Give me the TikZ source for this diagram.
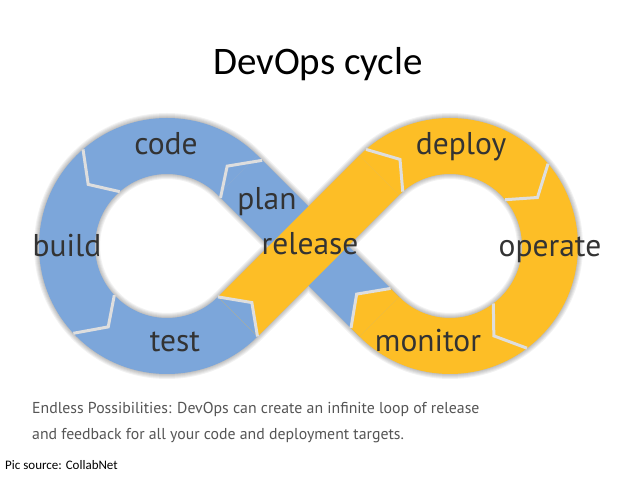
\documentclass[tikz,border=0pt]{standalone}
\usepackage{fontspec}
\setmainfont{Carlito}
\newfontfamily\labelfont{PT Sans}
\usetikzlibrary{calc}
\definecolor{dvblue}{RGB}{124,166,218}
\definecolor{dvyellow}{RGB}{253,190,38}
\definecolor{dvtext}{RGB}{51,51,51}
\definecolor{capgray}{RGB}{85,85,85}
\definecolor{sepgray}{RGB}{222,222,222}
\begin{document}
\begin{tikzpicture}[x=1pt,y=1pt,
  sep/.style={draw=sepgray, line width=3pt, line join=miter},
  shadowstroke/.style={draw=black, draw opacity=0.05},
  lbl/.style={text=dvtext, font=\labelfont\fontsize{31.5}{31.5}\selectfont, inner sep=0pt, anchor=base},
  captext/.style={text=capgray, font=\labelfont\fontsize{15.8}{15.8}\selectfont, inner sep=0pt, anchor=base west}]
\useasboundingbox (0,0) rectangle (638,479);
\fill[white] (0,0) rectangle (638,479);
\coordinate (C1) at (167,233);
\coordinate (C2) at (450,233);

% ---- soft shadow along the loop
\foreach \w in {56,58,60,62,64,66} {
  \draw[shadowstroke, line width=\w pt, yshift=-6pt]
    ($(C1)+(45:100)$) arc[start angle=45, end angle=315, radius=100]
    -- ($(C2)+(135:100)$) arc[start angle=135, end angle=-135, radius=100] -- cycle;
}

% ---- blue half: left ring and plan band
\fill[dvblue] ($(C1)+(45:128)$) arc[start angle=45, end angle=315, radius=128]
  -- ($(C1)+(315:72)$) arc[start angle=315, end angle=45, radius=72] -- cycle;
\fill[dvblue] ($(C1)+(45:128)$) -- ($(C2)+(225:72)$) -- ($(C2)+(225:128)$) -- ($(C1)+(45:72)$) -- cycle;

% ---- yellow half: right ring and release band
\fill[dvyellow] ($(C2)+(135:128)$) arc[start angle=135, end angle=-135, radius=128]
  -- ($(C2)+(-135:72)$) arc[start angle=-135, end angle=135, radius=72] -- cycle;
\fill[dvyellow] ($(C1)+(-45:128)$) -- ($(C2)+(135:72)$) -- ($(C2)+(135:128)$) -- ($(C1)+(-45:72)$) -- cycle;

% ---- arrow tips where the colour changes
\fill[dvblue] ($(C1)+(315:128)$) -- ($(C1)+(315:100)+(45:20)$) -- ($(C1)+(315:72)$) -- cycle;
\fill[dvyellow] ($(C2)+(225:128)$) -- ($(C2)+(225:128)+(135:12)$) -- ($(C2)+(225:100)+(135:32)$)
  -- ($(C2)+(225:72)+(135:12)$) -- ($(C2)+(225:72)$) -- cycle;

% ---- separators (chevrons)
\draw[sep] ($(C1)+(42:128)$) -- ($(C1)+(53:100)$) -- ($(C1)+(42:72)$);
\draw[sep] ($(C1)+(131:128)$) -- ($(C1)+(142:100)$) -- ($(C1)+(131:72)$);
\draw[sep] ($(C1)+(223:128)$) -- ($(C1)+(234:100)$) -- ($(C1)+(223:72)$);
\draw[sep] ($(C1)+(315:128)$) -- ($(C1)+(315:100)+(45:20)$) -- ($(C1)+(315:72)$);
\draw[sep] ($(C2)+(131:128)$) -- ($(C2)+(120:100)$) -- ($(C2)+(131:72)$);
\draw[sep] ($(C2)+(40:128)$) -- ($(C2)+(29:100)$) -- ($(C2)+(40:72)$);
\draw[sep] ($(C2)+(-53:128)$) -- ($(C2)+(-64:100)$) -- ($(C2)+(-53:72)$);
\draw[sep] ($(C2)+(225:128)+(135:12)$) -- ($(C2)+(225:100)+(135:32)$) -- ($(C2)+(225:72)+(135:12)$);

% ---- labels
\node[lbl] (code) at (166,324) {code};
\node[lbl] (plan) at (267,269) {plan};
\node[lbl] (build) at (67,222) {build};
\node[lbl] (release) at (310,224) {release};
\node[lbl] (test) at (175,127) {test};
\node[lbl] (deploy) at (461,324) {deploy};
\node[lbl] (operate) at (550,222) {operate};
\node[lbl] (monitor) at (428,127) {monitor};

% ---- title and captions
\node[text=black, font=\fontsize{39}{39}\selectfont, inner sep=0pt, anchor=base] (title) at (318,404) {DevOps cycle};
\node[captext] (cap1) at (32,65) {Endless Possibilities: DevOps can create an infinite loop of release};
\node[captext] (cap2) at (32,39) {and feedback for all your code and deployment targets.};
\node[text=black, font=\fontsize{13}{13}\selectfont, inner sep=0pt, anchor=base west] (src) at (5,9) {Pic source: CollabNet};
\end{tikzpicture}
\end{document}
